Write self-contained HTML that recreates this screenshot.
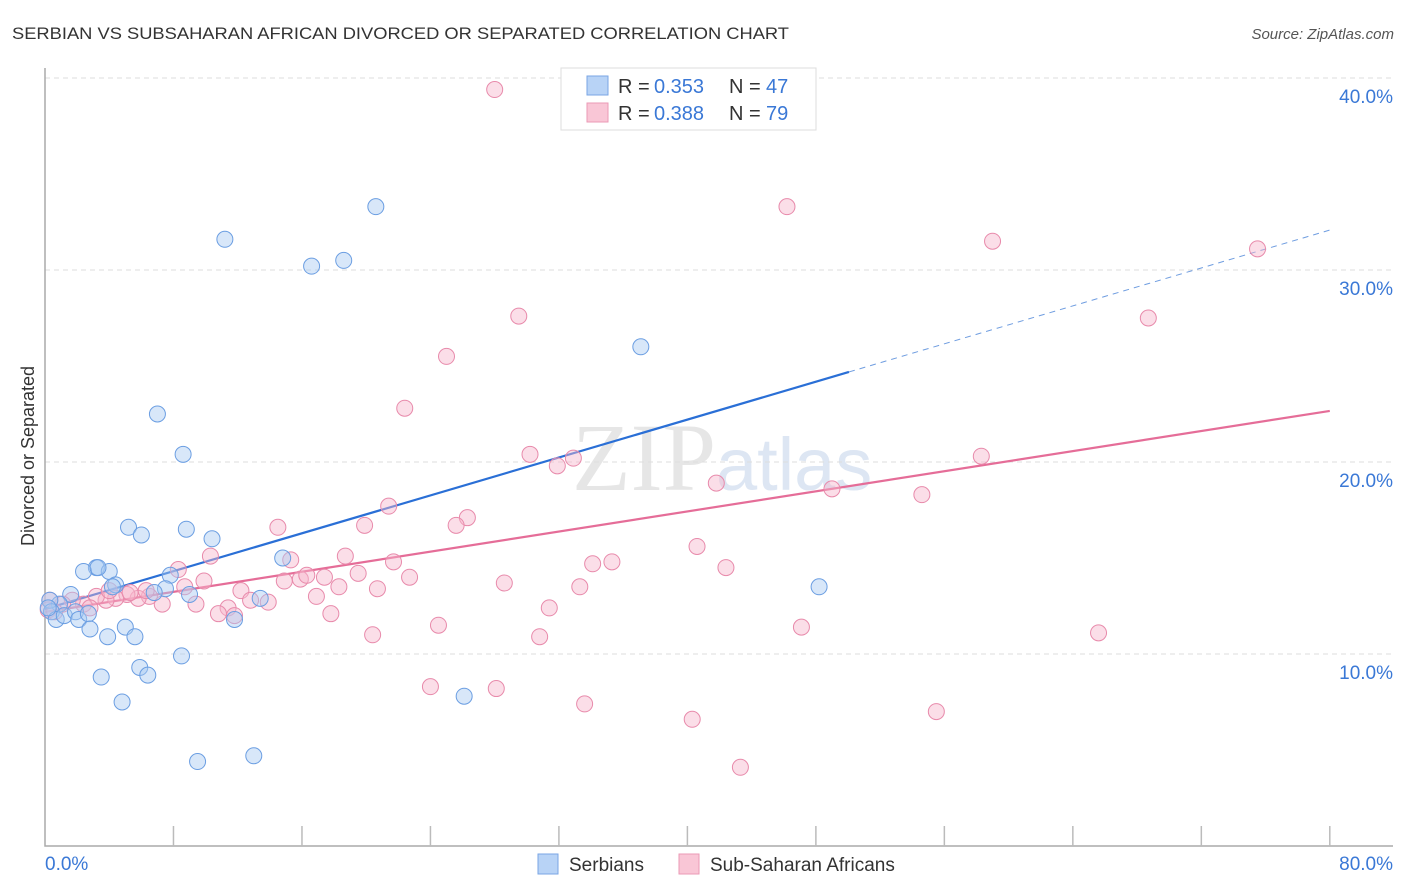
<!DOCTYPE html>
<html><head><meta charset="utf-8"><style>
body{margin:0;background:#fff;font-family:"Liberation Sans",sans-serif;}
svg{display:block}
</style></head><body>
<svg id="chart" width="1406" height="892">
<text x="12" y="39" font-size="17" fill="#333" textLength="777" lengthAdjust="spacingAndGlyphs">SERBIAN VS SUBSAHARAN AFRICAN DIVORCED OR SEPARATED CORRELATION CHART</text>
<text x="1394" y="39" font-size="15" fill="#555" font-style="italic" text-anchor="end">Source: ZipAtlas.com</text>
<text x="716" y="490" font-size="96" fill="#e6e6e6" text-anchor="end" font-family="Liberation Serif">ZIP</text>
<text x="716" y="490" font-size="74" fill="#dde6f3">atlas</text>
<g id="grid"></g>
<g id="axes"></g>
<g id="lines"></g>
<g id="pts"></g>
<text transform="translate(34,456) rotate(-90)" font-size="18" fill="#333" text-anchor="middle">Divorced or Separated</text>
<g>
<rect x="561" y="68" width="255" height="62" fill="#fff" stroke="#ddd"/>
<rect x="587" y="76" width="21" height="19" fill="#b8d3f6" stroke="#7aa6e4"/>
<rect x="587" y="103" width="21" height="19" fill="#f9c6d6" stroke="#eb9ab6"/>
<text x="618" y="93" font-size="20" fill="#333">R =</text>
<text x="654" y="93" font-size="20" fill="#3a78d6">0.353</text>
<text x="729" y="93" font-size="20" fill="#333">N =</text>
<text x="766" y="93" font-size="20" fill="#3a78d6">47</text>
<text x="618" y="120" font-size="20" fill="#333">R =</text>
<text x="654" y="120" font-size="20" fill="#3a78d6">0.388</text>
<text x="729" y="120" font-size="20" fill="#333">N =</text>
<text x="766" y="120" font-size="20" fill="#3a78d6">79</text>
</g>
<g>
<rect x="538" y="854" width="20" height="20" fill="#b8d3f6" stroke="#7aa6e4"/>
<text x="569" y="871" font-size="19" fill="#333">Serbians</text>
<rect x="679" y="854" width="20" height="20" fill="#f9c6d6" stroke="#eb9ab6"/>
<text x="710" y="871" font-size="19" fill="#333">Sub-Saharan Africans</text>
</g>
</svg>
<script>
const yTicks=[10,20,30,40];
const yTickLabels=["10.0%","20.0%","30.0%","40.0%"];
const xTicks=[0,8,16,24,32,40,48,56,64,72,80];
const serbX=[20.6,11.2,16.6,18.6,37.1,7.0,8.6,5.2,6.0,8.8,10.4,14.8,3.2,2.4,4.0,3.3,4.4,4.2,7.8,7.5,6.8,9.0,13.4,11.8,1.6,0.9,0.3,0.4,0.7,1.2,1.9,2.1,2.7,2.8,5.0,5.6,3.9,5.9,6.4,3.5,4.8,8.5,9.5,13.0,26.1,48.2,0.2];
const serbY=[33.3,31.6,30.2,30.5,26.0,22.5,20.4,16.6,16.2,16.5,16.0,15.0,14.5,14.3,14.3,14.5,13.6,13.5,14.1,13.4,13.2,13.1,12.9,11.8,13.1,12.6,12.8,12.2,11.8,12.0,12.2,11.8,12.1,11.3,11.4,10.9,10.9,9.3,8.9,8.8,7.5,9.9,4.4,4.7,7.8,13.5,12.4];
const ssaX=[28.0,46.2,59.0,75.5,29.5,68.7,25.0,22.4,30.2,32.9,31.9,41.8,49.0,58.3,54.6,21.4,26.3,25.6,19.9,14.5,10.3,15.3,18.7,21.7,40.6,34.1,35.3,42.4,8.3,9.9,12.2,14.9,15.9,16.3,17.4,19.5,22.7,28.6,33.3,20.7,18.3,8.7,9.4,11.4,10.8,12.8,13.9,16.9,17.8,31.4,24.5,20.4,30.8,47.1,65.6,7.3,6.5,5.8,5.1,4.4,3.8,3.2,2.4,1.7,1.1,0.3,0.2,0.6,6.3,5.3,24.0,28.1,33.6,40.3,55.5,43.3,11.8,4.0,2.8];
const ssaY=[39.4,33.3,31.5,31.1,27.6,27.5,25.5,22.8,20.4,20.2,19.8,18.9,18.6,20.3,18.3,17.7,17.1,16.7,16.7,16.6,15.1,14.9,15.1,14.8,15.6,14.7,14.8,14.5,14.4,13.8,13.3,13.8,13.9,14.1,14.0,14.2,14.0,13.7,13.5,13.4,13.5,13.5,12.6,12.4,12.1,12.8,12.7,13.0,12.1,12.4,11.5,11.0,10.9,11.4,11.1,12.6,13.0,12.9,13.1,12.9,12.8,13.0,12.6,12.8,12.6,12.8,12.3,12.2,13.3,13.2,8.3,8.2,7.4,6.6,7.0,4.1,12.0,13.3,12.4];
const serbTrend=[12.34,24.69,32.08];
const ssaTrend=[12.19,22.66];
const NS="http://www.w3.org/2000/svg";
const X=v=>45+v*16.06, Y=v=>846-v*19.2;
function mk(t,a,p){const e=document.createElementNS(NS,t);for(const k in a)e.setAttribute(k,a[k]);p.appendChild(e);return e;}
const grid=document.getElementById('grid'),axes=document.getElementById('axes'),lines=document.getElementById('lines'),pts=document.getElementById('pts');
yTicks.forEach((t,i)=>{
 const l=mk('line',{x1:45,x2:1393,y1:Y(t),y2:Y(t),stroke:'#ddd','stroke-dasharray':'5,4'},grid);
 
 
 const tx=mk('text',{x:1393,y:Y(t)+25,'font-size':19,fill:'#3a78d6','text-anchor':'end'},grid);
 tx.textContent=yTickLabels[i];
 
 
});
const ax=mk('path',{d:'M45,68V846H1393',fill:'none',stroke:'#aaa','stroke-width':1.5},axes);


xTicks.slice(1).forEach(t=>{
 const l=mk('line',{x1:X(t),x2:X(t),y1:826,y2:846,stroke:'#bbb','stroke-width':1.5},axes);
 
 
});
const x0=mk('text',{x:45,y:870,'font-size':19,fill:'#3a78d6'},axes);x0.textContent='0.0%';


const x1=mk('text',{x:1393,y:870,'font-size':19,fill:'#3a78d6','text-anchor':'end'},axes);x1.textContent='80.0%';


function dot(x,y,f,s,n){const c=mk('circle',{cx:X(x),cy:Y(y),r:8,fill:f,'fill-opacity':0.45,stroke:s,'stroke-width':1},pts);
 
 }
ssaX.forEach((x,i)=>dot(x,ssaY[i],'#f6b6cb','#e88aab','subsaharan-point'));
serbX.forEach((x,i)=>dot(x,serbY[i],'#a9c9f2','#6b9ee2','serbian-point'));
let l1=mk('line',{x1:X(0),y1:Y(serbTrend[0]),x2:X(50.06),y2:Y(serbTrend[1]),stroke:'#2a6fd6','stroke-width':2.2},lines);


let l2=mk('line',{x1:X(50.06),y1:Y(serbTrend[1]),x2:X(80),y2:Y(serbTrend[2]),stroke:'#6f9de0','stroke-width':1,'stroke-dasharray':'6,5'},lines);


let l3=mk('line',{x1:X(0),y1:Y(ssaTrend[0]),x2:X(80),y2:Y(ssaTrend[1]),stroke:'#e56d98','stroke-width':2.2},lines);


</script>
</body></html>
